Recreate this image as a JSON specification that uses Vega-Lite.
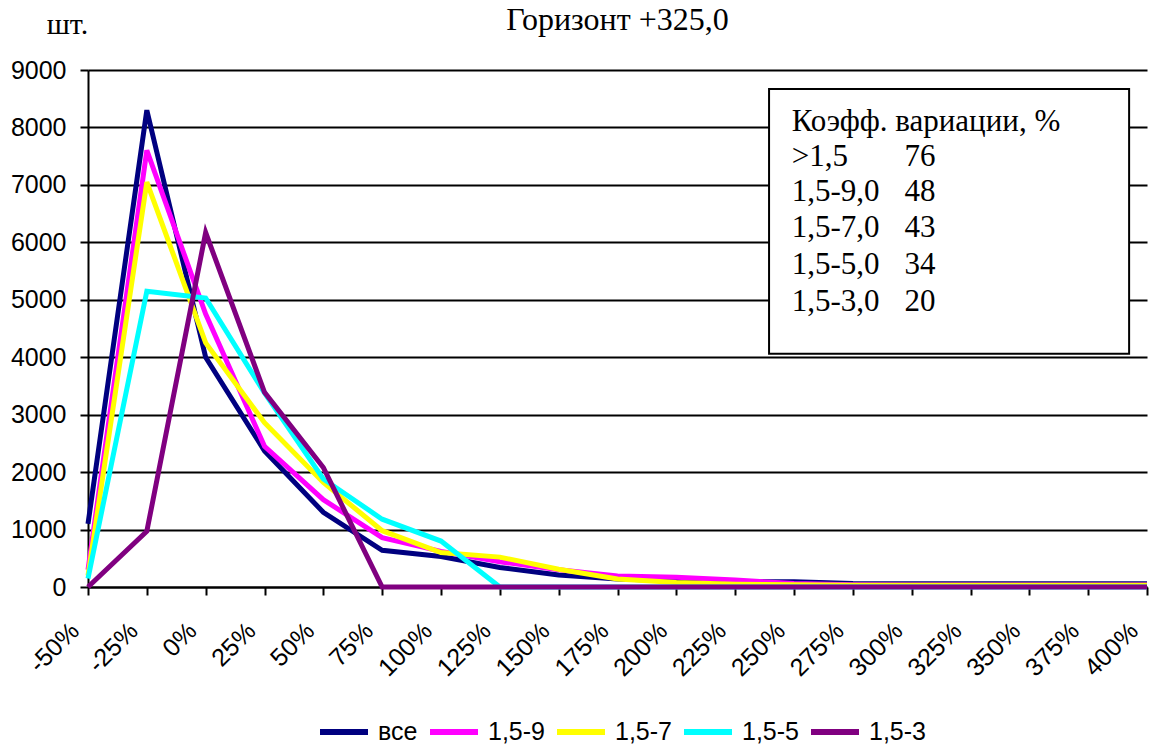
{
  "$schema": "https://vega.github.io/schema/vega-lite/v6.json",
  "width": 1059,
  "height": 517,
  "autosize": "none",
  "padding": {"left": 88, "top": 70, "right": 8, "bottom": 159},
  "background": "white",
  "config": {
    "view": {"stroke": null},
    "font": "Liberation Sans"
  },
  "title": {
    "text": "Горизонт +325,0",
    "font": "Liberation Serif",
    "fontSize": 32,
    "fontWeight": "normal",
    "color": "black",
    "anchor": "middle",
    "offset": -28
  },
  "datasets": {
    "series": [
      {"x": -50, "s": "все", "v": 1100}, {"x": -25, "s": "все", "v": 8300}, {"x": 0, "s": "все", "v": 4000}, {"x": 25, "s": "все", "v": 2370}, {"x": 50, "s": "все", "v": 1300}, {"x": 75, "s": "все", "v": 640}, {"x": 100, "s": "все", "v": 530}, {"x": 125, "s": "все", "v": 340}, {"x": 150, "s": "все", "v": 210}, {"x": 175, "s": "все", "v": 140}, {"x": 200, "s": "все", "v": 110}, {"x": 225, "s": "все", "v": 90}, {"x": 250, "s": "все", "v": 90}, {"x": 275, "s": "все", "v": 60}, {"x": 300, "s": "все", "v": 55}, {"x": 325, "s": "все", "v": 55}, {"x": 350, "s": "все", "v": 55}, {"x": 375, "s": "все", "v": 55}, {"x": 400, "s": "все", "v": 55},
      {"x": -50, "s": "1,5-9", "v": 300}, {"x": -25, "s": "1,5-9", "v": 7600}, {"x": 0, "s": "1,5-9", "v": 4750}, {"x": 25, "s": "1,5-9", "v": 2450}, {"x": 50, "s": "1,5-9", "v": 1520}, {"x": 75, "s": "1,5-9", "v": 860}, {"x": 100, "s": "1,5-9", "v": 620}, {"x": 125, "s": "1,5-9", "v": 440}, {"x": 150, "s": "1,5-9", "v": 300}, {"x": 175, "s": "1,5-9", "v": 190}, {"x": 200, "s": "1,5-9", "v": 170}, {"x": 225, "s": "1,5-9", "v": 120}, {"x": 250, "s": "1,5-9", "v": 60}, {"x": 275, "s": "1,5-9", "v": 40}, {"x": 300, "s": "1,5-9", "v": 35}, {"x": 325, "s": "1,5-9", "v": 35}, {"x": 350, "s": "1,5-9", "v": 35}, {"x": 375, "s": "1,5-9", "v": 35}, {"x": 400, "s": "1,5-9", "v": 35},
      {"x": -50, "s": "1,5-7", "v": 200}, {"x": -25, "s": "1,5-7", "v": 7050}, {"x": 0, "s": "1,5-7", "v": 4250}, {"x": 25, "s": "1,5-7", "v": 2860}, {"x": 50, "s": "1,5-7", "v": 1820}, {"x": 75, "s": "1,5-7", "v": 980}, {"x": 100, "s": "1,5-7", "v": 600}, {"x": 125, "s": "1,5-7", "v": 520}, {"x": 150, "s": "1,5-7", "v": 310}, {"x": 175, "s": "1,5-7", "v": 140}, {"x": 200, "s": "1,5-7", "v": 80}, {"x": 225, "s": "1,5-7", "v": 50}, {"x": 250, "s": "1,5-7", "v": 40}, {"x": 275, "s": "1,5-7", "v": 30}, {"x": 300, "s": "1,5-7", "v": 30}, {"x": 325, "s": "1,5-7", "v": 30}, {"x": 350, "s": "1,5-7", "v": 30}, {"x": 375, "s": "1,5-7", "v": 30}, {"x": 400, "s": "1,5-7", "v": 30},
      {"x": -50, "s": "1,5-5", "v": 150}, {"x": -25, "s": "1,5-5", "v": 5150}, {"x": 0, "s": "1,5-5", "v": 5030}, {"x": 25, "s": "1,5-5", "v": 3380}, {"x": 50, "s": "1,5-5", "v": 1880}, {"x": 75, "s": "1,5-5", "v": 1180}, {"x": 100, "s": "1,5-5", "v": 800}, {"x": 125, "s": "1,5-5", "v": 0}, {"x": 150, "s": "1,5-5", "v": 0}, {"x": 175, "s": "1,5-5", "v": 0}, {"x": 200, "s": "1,5-5", "v": 0}, {"x": 225, "s": "1,5-5", "v": 0}, {"x": 250, "s": "1,5-5", "v": 0}, {"x": 275, "s": "1,5-5", "v": 0}, {"x": 300, "s": "1,5-5", "v": 0}, {"x": 325, "s": "1,5-5", "v": 0}, {"x": 350, "s": "1,5-5", "v": 0}, {"x": 375, "s": "1,5-5", "v": 0}, {"x": 400, "s": "1,5-5", "v": 0},
      {"x": -50, "s": "1,5-3", "v": 0}, {"x": -25, "s": "1,5-3", "v": 970}, {"x": 0, "s": "1,5-3", "v": 6170}, {"x": 25, "s": "1,5-3", "v": 3390}, {"x": 50, "s": "1,5-3", "v": 2080}, {"x": 75, "s": "1,5-3", "v": 0}, {"x": 100, "s": "1,5-3", "v": 0}, {"x": 125, "s": "1,5-3", "v": 0}, {"x": 150, "s": "1,5-3", "v": 0}, {"x": 175, "s": "1,5-3", "v": 0}, {"x": 200, "s": "1,5-3", "v": 0}, {"x": 225, "s": "1,5-3", "v": 0}, {"x": 250, "s": "1,5-3", "v": 0}, {"x": 275, "s": "1,5-3", "v": 0}, {"x": 300, "s": "1,5-3", "v": 0}, {"x": 325, "s": "1,5-3", "v": 0}, {"x": 350, "s": "1,5-3", "v": 0}, {"x": 375, "s": "1,5-3", "v": 0}, {"x": 400, "s": "1,5-3", "v": 0}
    ],
    "box": [
      {"x1": 239.4, "x2": 392.4, "y1": 4060, "y2": 8670}
    ],
    "boxtext": [
      {"tx": 249, "ty": 8090, "t": "Коэфф. вариации, %"},
      {"tx": 249, "ty": 7490, "t": ">1,5"},
      {"tx": 297, "ty": 7490, "t": "76"},
      {"tx": 249, "ty": 6880, "t": "1,5-9,0"},
      {"tx": 297, "ty": 6880, "t": "48"},
      {"tx": 249, "ty": 6255, "t": "1,5-7,0"},
      {"tx": 297, "ty": 6255, "t": "43"},
      {"tx": 249, "ty": 5610, "t": "1,5-5,0"},
      {"tx": 297, "ty": 5610, "t": "34"},
      {"tx": 249, "ty": 4970, "t": "1,5-3,0"},
      {"tx": 297, "ty": 4970, "t": "20"}
    ]
  },
  "layer": [
    {
      "data": {"name": "series"},
      "mark": {"type": "line", "strokeWidth": 5, "strokeJoin": "miter", "clip": false},
      "encoding": {
        "x": {
          "field": "x", "type": "quantitative",
          "scale": {"domain": [-50, 400], "nice": false, "zero": false},
          "axis": {
            "values": [-50, -25, 0, 25, 50, 75, 100, 125, 150, 175, 200, 225, 250, 275, 300, 325, 350, 375, 400],
            "labelExpr": "datum.value + '%'",
            "labelAngle": -45,
            "labelFont": "Liberation Sans",
            "labelFontSize": 25,
            "labelColor": "black",
            "labelPadding": 23,
            "labelOffset": -22,
            "labelOverlap": false,
            "labelBound": false,
            "labelFlush": false,
            "grid": false,
            "domainColor": "black",
            "domainWidth": 2,
            "tickColor": "black",
            "tickWidth": 2,
            "tickSize": 8,
            "title": null
          }
        },
        "y": {
          "field": "v", "type": "quantitative",
          "scale": {"domain": [0, 9000], "nice": false},
          "axis": {
            "values": [0, 1000, 2000, 3000, 4000, 5000, 6000, 7000, 8000, 9000],
            "format": "d",
            "labelFont": "Liberation Sans",
            "labelFontSize": 25,
            "labelColor": "black",
            "labelPadding": 14,
            "grid": true,
            "gridColor": "black",
            "gridWidth": 2,
            "gridOpacity": 1,
            "domainColor": "black",
            "domainWidth": 2,
            "tickColor": "black",
            "tickWidth": 2,
            "tickSize": 8,
            "title": "шт.",
            "titleFont": "Liberation Serif",
            "titleFontSize": 30,
            "titleFontWeight": "normal",
            "titleColor": "black",
            "titleAngle": 0,
            "titleAlign": "center",
            "titleBaseline": "middle",
            "titleX": -21,
            "titleY": -46
          }
        },
        "color": {
          "field": "s", "type": "nominal",
          "scale": {
            "domain": ["все", "1,5-9", "1,5-7", "1,5-5", "1,5-3"],
            "range": ["#000080", "#FF00FF", "#FFFF00", "#00FFFF", "#800080"]
          },
          "legend": {
            "orient": "none",
            "legendX": 229,
            "legendY": 635,
            "direction": "horizontal",
            "title": null,
            "symbolType": "stroke",
            "symbolSize": 2304,
            "symbolStrokeWidth": 6,
            "labelFont": "Liberation Sans",
            "labelFontSize": 25,
            "labelColor": "black",
            "labelOffset": 7,
            "columnPadding": 0,
            "symbolOffset": 0
          }
        },
        "order": {"field": "x", "type": "quantitative"}
      }
    },
    {
      "data": {"name": "box"},
      "mark": {"type": "rect", "fill": "white", "stroke": "black", "strokeWidth": 2},
      "encoding": {
        "x": {"field": "x1", "type": "quantitative"},
        "x2": {"field": "x2"},
        "y": {"field": "y1", "type": "quantitative"},
        "y2": {"field": "y2"}
      }
    },
    {
      "data": {"name": "boxtext"},
      "mark": {"type": "text", "align": "left", "baseline": "middle", "font": "Liberation Serif", "fontSize": 31, "color": "black"},
      "encoding": {
        "x": {"field": "tx", "type": "quantitative"},
        "y": {"field": "ty", "type": "quantitative"},
        "text": {"field": "t"}
      }
    }
  ]
}
